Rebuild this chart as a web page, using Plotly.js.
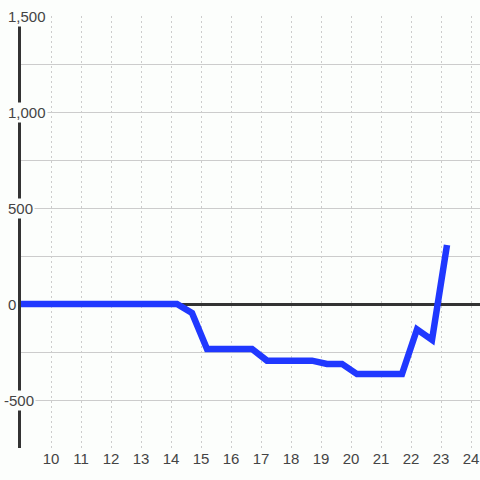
<!DOCTYPE html>
<html>
<head>
<meta charset="utf-8">
<script src="https://cdn.plot.ly/plotly-3.0.1.min.js"></script>
<style>html,body{margin:0;padding:0;background:#fcfefc;}</style>
</head>
<body>
<div id="chart" style="width:480px;height:480px;"></div>
<script>
// Data
const xValues = [8.7, 9.2, 9.7, 10.2, 10.7, 11.2, 11.7, 12.2, 12.7, 13.2, 13.7, 14.2,
                 14.7, 15.2, 15.7, 16.2, 16.7, 17.2, 17.7, 18.2, 18.7, 19.2, 19.7,
                 20.2, 20.7, 21.2, 21.7, 22.2, 22.7, 23.2];
const yValues = [0, 0, 0, 0, 0, 0, 0, 0, 0, 0, 0, 0,
                 -47, -234, -234, -234, -234, -295, -295, -295, -295, -312, -312,
                 -365, -365, -365, -365, -132, -187, 307];
const xTickVals = [9, 10, 11, 12, 13, 14, 15, 16, 17, 18, 19, 20, 21, 22, 23, 24];
const xTickText = ['', '10', '11', '12', '13', '14', '15', '16', '17', '18', '19', '20', '21', '22', '23', '24'];
const yTickVals = [1500, 1000, 500, 0, -500];
const yTickText = ['1,500', '1,000', '500', '0', '-500'];

const bg = '#fcfefc';
const annotations = yTickVals.map((v, i) => ({
  xref: 'paper', yref: 'y', x: 0, y: v,
  xanchor: 'left', yanchor: 'middle',
  xshift: yTickText[i].startsWith('-') ? -19 : -15,
  text: yTickText[i], showarrow: false,
  bgcolor: bg, borderpad: 1,
  font: {family: 'Liberation Sans, Arial, sans-serif', size: 15, color: '#444'}
}));

Plotly.newPlot('chart', [{
  x: xValues, y: yValues, type: 'scatter', mode: 'lines',
  line: {color: '#2038ff', width: 6.5},
  hoverinfo: 'skip'
}], {
  width: 480, height: 480,
  margin: {l: 21, r: 0, t: 16, b: 32},
  paper_bgcolor: bg, plot_bgcolor: bg,
  showlegend: false,
  font: {family: 'Liberation Sans, Arial, sans-serif', size: 15, color: '#444'},
  xaxis: {
    range: [9, 24.3],
    tickmode: 'array', tickvals: xTickVals, ticktext: xTickText,
    showgrid: true, gridcolor: '#cccccc', gridwidth: 1, griddash: '2px,3px',
    zeroline: false, showline: false, ticks: '',
    tickfont: {size: 15, color: '#444'}
  },
  yaxis: {
    range: [-750, 1500],
    dtick: 250, tick0: 0,
    showticklabels: false, ticks: '',
    showgrid: true, gridcolor: '#cccccc', gridwidth: 1,
    zeroline: true, zerolinecolor: '#333333', zerolinewidth: 3,
    showline: true, linecolor: '#333333', linewidth: 3
  },
  annotations: annotations
}, {displayModeBar: false, staticPlot: true});
</script>
</body>
</html>
